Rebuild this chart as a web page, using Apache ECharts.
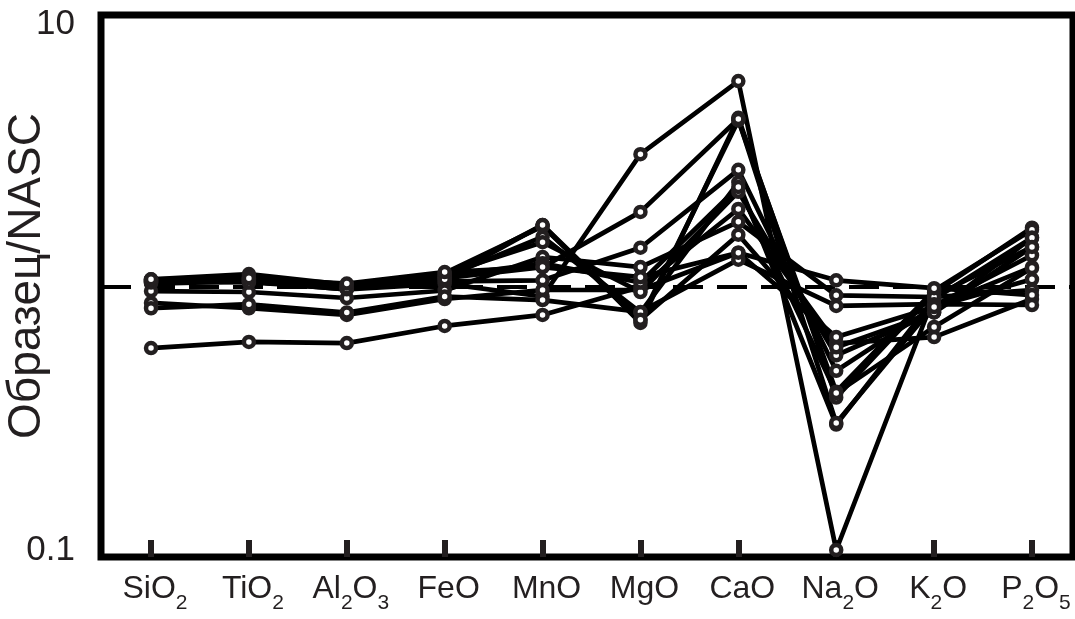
<!DOCTYPE html>
<html>
<head>
<meta charset="utf-8">
<script src="https://cdn.jsdelivr.net/npm/echarts@6/dist/echarts.min.js"></script>
<style>
html,body{margin:0;padding:0;background:#fff;}
#chart{width:1075px;height:619px;}
</style>
</head>
<body>
<div id="chart"></div>
<script>
// Categories (oxides), x positions are category indices 0..9
const categories = ['SiO2','TiO2','Al2O3','FeO','MnO','MgO','CaO','Na2O','K2O','P2O5'];
const yTickLabels = [0.1, 10];
const referenceLevel = 1;

// Sample / NASC ratios, one array per sample
const s1  = [1.05, 1.08, 1.00, 1.10, 1.72, 0.73, 4.40, 0.38, 0.95, 1.68];
const s2  = [1.07, 1.12, 1.02, 1.13, 1.70, 0.75, 4.30, 0.40, 0.97, 1.65];
const s3  = [1.04, 1.06, 0.99, 1.09, 1.55, 0.80, 2.50, 0.30, 0.90, 1.54];
const s4  = [1.03, 1.05, 0.98, 1.03, 0.92, 3.20, 6.07, 0.10, 0.92, 1.42];
const s5  = [1.06, 1.10, 1.00, 1.08, 1.19, 1.93, 4.35, 0.304, 0.85, 1.32];
const s6  = [1.05, 1.07, 1.01, 1.05, 1.06, 1.41, 2.79, 0.48, 0.84, 1.19];
const s7  = [0.586, 0.618, 0.612, 0.711, 0.783, 1.00, 1.98, 0.61, 0.645, 0.90];
const s8  = [0.965, 0.957, 0.908, 0.97, 1.30, 1.19, 1.77, 0.93, 0.916, 0.974];
const s9  = [0.87, 0.83, 0.783, 0.90, 0.974, 0.974, 1.35, 1.06, 0.99, 0.932];
const s10 = [0.83, 0.86, 0.80, 0.92, 0.892, 0.804, 1.27, 0.847, 0.86, 0.854];
const s11 = [1.06, 1.09, 1.01, 1.12, 1.48, 0.957, 2.30, 0.55, 0.80, 1.54];
const s12 = [1.04, 1.05, 0.98, 1.10, 1.23, 1.04, 2.40, 0.395, 0.705, 1.18];
const s13 = [1.05, 1.04, 0.99, 1.07, 1.72, 0.75, 1.58, 0.59, 0.80, 1.42];
const s14 = [1.07, 1.08, 1.03, 1.14, 1.19, 1.09, 1.35, 0.645, 0.839, 1.07];

const samples = [s1,s2,s3,s4,s5,s6,s7,s8,s9,s10,s11,s12,s13,s14];

const INK = '#231f20';
const FONT = "'Liberation Sans', Arial, sans-serif";

function toPairs(arr){ return arr.map((v,i)=>[i,v]); }
function labelRich(name){
  // split into text runs and digit runs -> base / subscript rich tokens
  return name.match(/\d+|\D+/g).map(p => /\d/.test(p) ? '{s|' + p + '}' : '{b|' + p + '}').join('');
}

const series = [];
samples.forEach((arr, k) => {
  series.push({
    type: 'line',
    data: toPairs(arr),
    showSymbol: false,
    lineStyle: { color: '#000', width: 4.7 },
    z: 2,
    silent: true,
    animation: false,
    markLine: k === 0 ? {
      silent: true,
      symbol: 'none',
      label: { show: false },
      lineStyle: { color: '#000', width: 4, type: [30, 14] },
      data: [{ yAxis: referenceLevel }],
      z: 1
    } : undefined
  });
});
samples.forEach((arr) => {
  series.push({
    type: 'scatter',
    data: toPairs(arr),
    symbol: 'circle',
    symbolSize: 10,
    itemStyle: { color: '#fff', borderColor: INK, borderWidth: 4.5, opacity: 1 },
    z: 3,
    silent: true,
    animation: false
  });
});

const chart = echarts.init(document.getElementById('chart'), null, { renderer: 'canvas' });
chart.setOption({
  animation: false,
  backgroundColor: '#fff',
  grid: {
    left: 101, right: 2, top: 15, bottom: 62,
    containLabel: false,
    outerBoundsMode: 'none',
    show: true, borderColor: '#000', borderWidth: 7, backgroundColor: 'transparent'
  },
  xAxis: {
    type: 'value',
    min: -0.511, max: 9.419,
    axisLine: { show: false },
    splitLine: { show: false },
    axisTick: {
      show: true, inside: true, length: 17,
      lineStyle: { color: INK, width: 6 },
      customValues: categories.map((c,i)=>i)
    },
    axisLabel: {
      show: true, margin: 16,
      customValues: categories.map((c,i)=>i),
      formatter: function(v){
        const i = Math.round(v);
        if (Math.abs(v - i) > 1e-6 || !categories[i]) return '';
        return labelRich(categories[i]);
      },
      padding: [0,0,0,8],
      rich: {
        b: { fontFamily: FONT, fontSize: 32, color: INK, lineHeight: 37, verticalAlign: 'top' },
        s: { fontFamily: FONT, fontSize: 21, color: INK, lineHeight: 22, padding: [20,0,0,0], verticalAlign: 'top' }
      }
    }
  },
  yAxis: {
    type: 'log', logBase: 10,
    min: 0.09405, max: 10.819,
    axisLine: { show: false },
    axisTick: { show: false },
    splitLine: { show: false },
    minorTick: { show: false },
    axisLabel: {
      margin: 26,
      fontFamily: FONT, fontSize: 35, color: INK,
      showMinLabel: false, showMaxLabel: false,
      formatter: function(v){
        for (const t of yTickLabels) { if (Math.abs(Math.log10(v) - Math.log10(t)) < 1e-6) return String(t); }
        return '';
      }
    },
    name: 'Образец/NASC',
    nameLocation: 'middle',
    nameGap: 51,
    nameMoveOverlap: false,
    nameTextStyle: { fontFamily: FONT, fontSize: 46, color: INK, padding: [0,0,0,20] }
  },
  series: series
});
</script>
</body>
</html>
